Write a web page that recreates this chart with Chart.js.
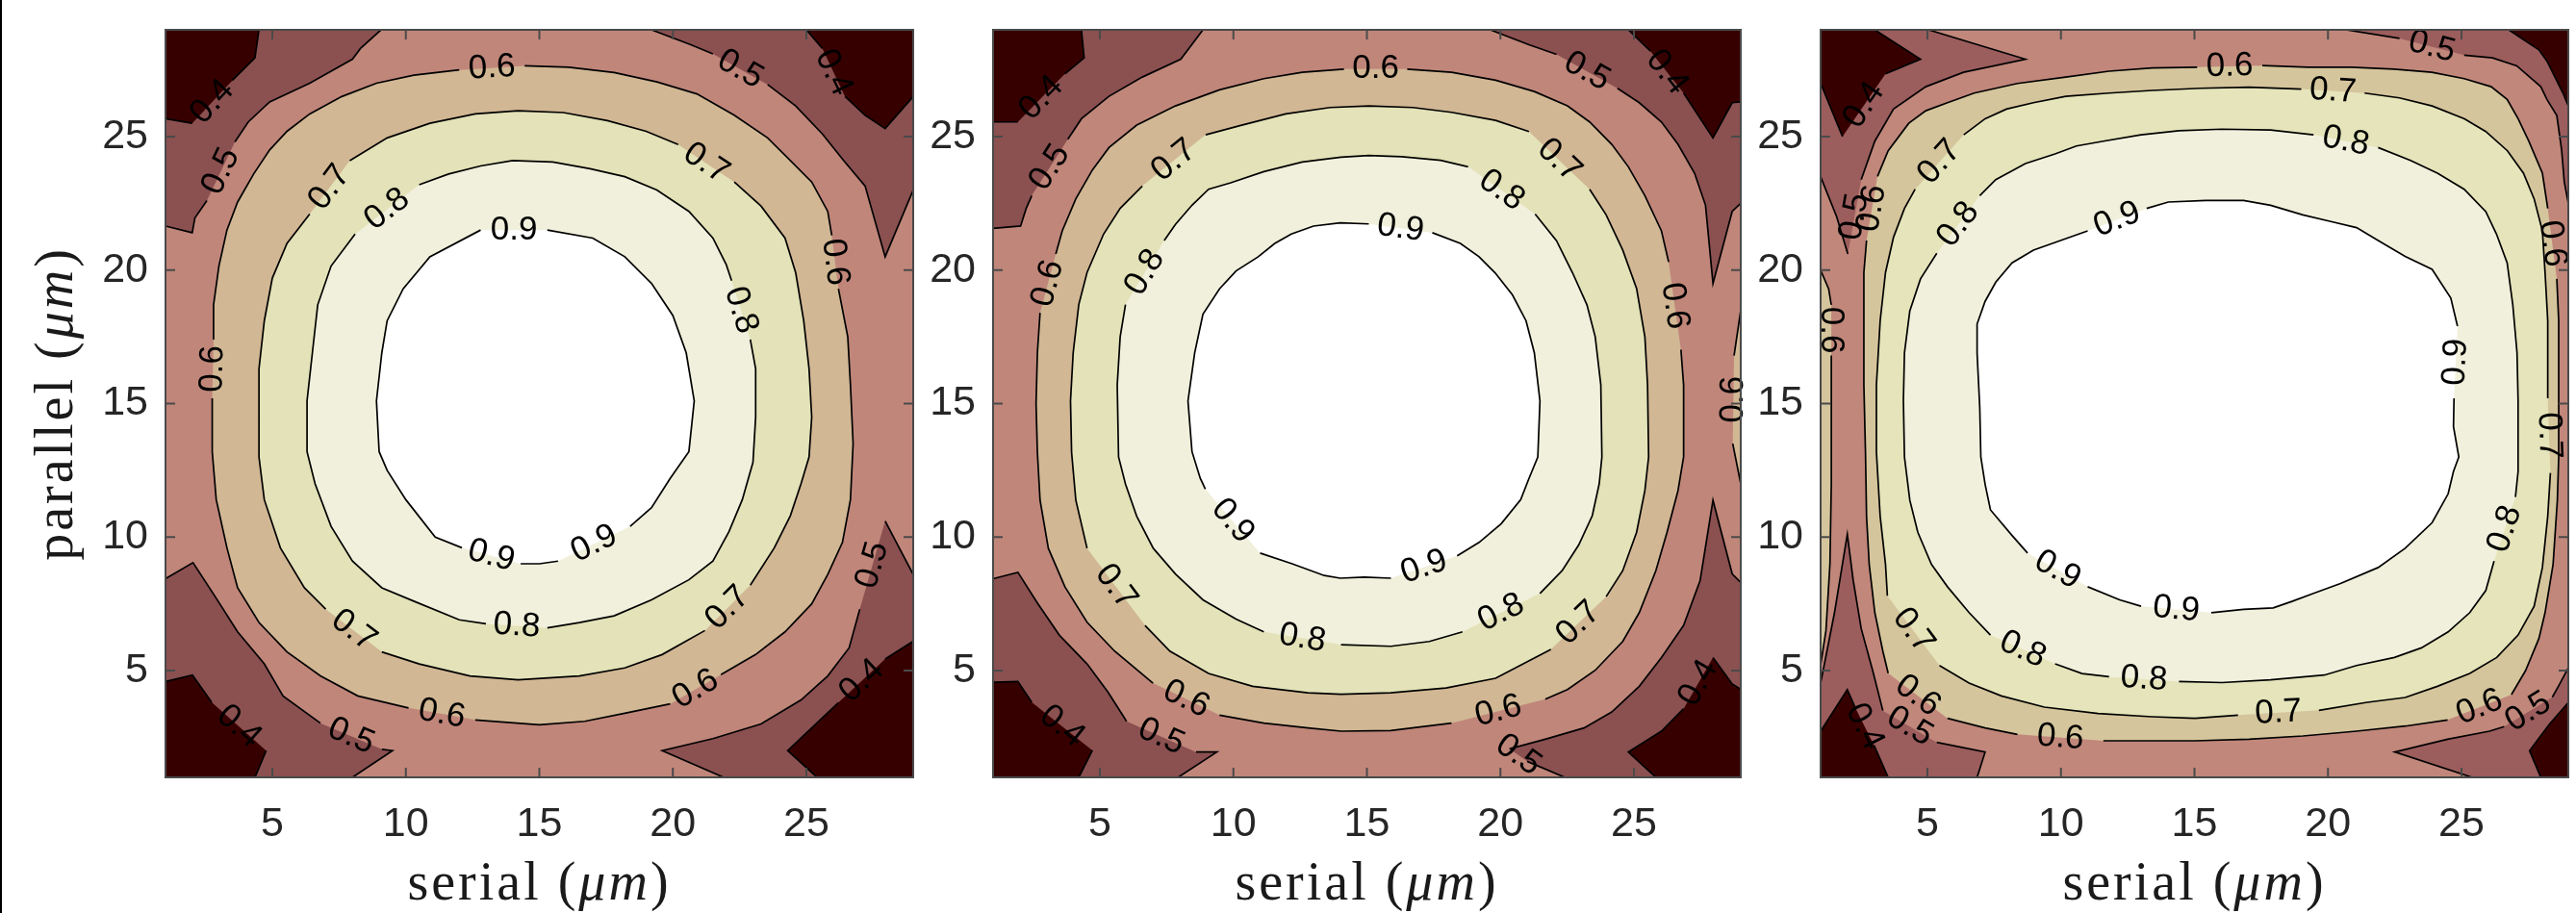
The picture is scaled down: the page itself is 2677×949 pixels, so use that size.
<!DOCTYPE html>
<html>
<head>
<meta charset="utf-8">
<script src="https://cdn.jsdelivr.net/npm/chart.js@4.4.0/dist/chart.umd.min.js"></script>
<style>
  html, body { margin: 0; padding: 0; background: #fff; overflow: hidden; }
  #fig { position: relative; width: 2677px; height: 949px; }
  #fig canvas { position: absolute; top: 0; }
  #edge { position: absolute; left: 0; top: 0; width: 2px; height: 949px; background: #000; }
</style>
</head>
<body>
<div id="fig">
  <canvas id="panel1" width="969" height="949" style="left:0px;width:969px;height:949px"></canvas>
  <canvas id="panel2" width="969" height="949" style="left:860px;width:969px;height:949px"></canvas>
  <canvas id="panel3" width="969" height="949" style="left:1720px;width:969px;height:949px"></canvas>
  <div id="edge"></div>
</div>
<script>
// contour levels and axes
const levels = [0.4, 0.5, 0.6, 0.7, 0.8, 0.9]
const xTicks = [5, 10, 15, 20, 25]
const yTicks = [5, 10, 15, 20, 25]
const axisMin = 1
const axisMax = 29

// contour lines, [serial, parallel] in um; null = gap where the level label sits
// panel 1
const p1Level09 = [[15.3,21.5],[17.0,21.2],[18.2,20.5],[19.2,19.5],[20.0,18.3],[20.5,16.9],[20.8,15.1],[20.6,13.2],[19.9,12.2],[19.2,11.1],[18.4,10.4],null,[15.7,9.1],[15.0,9.0],[14.3,9.0],null,[12.1,9.6],[11.1,10.0],[10.0,11.4],[9.3,12.5],[9.0,13.2],[8.9,15.1],[9.1,16.9],[9.3,18.1],[9.9,19.3],[10.9,20.5],[12.8,21.5],null]
const p1Level08 = [[10.5,23.2],[11.6,23.6],[12.8,23.9],[14.0,24.1],[15.5,24.05],[16.9,23.8],[18.2,23.5],[19.4,23.0],[20.6,22.2],[21.5,21.2],[22.0,20.2],[22.2,19.6],null,[22.9,17.4],[23.1,16.3],[23.1,14.5],[23.0,12.8],[22.6,11.4],[22.1,10.2],[21.5,9.1],[20.6,8.4],[19.2,7.65],[17.8,7.05],[16.5,6.8],[15.3,6.6],null,[13.0,6.75],[12.0,6.9],[10.3,7.6],[9.1,8.1],[8.0,9.1],[7.2,10.4],[6.6,12.0],[6.3,13.2],[6.3,15.1],[6.5,16.9],[6.7,18.7],[7.2,20.15],[8.1,21.35],null]
const p1Level07 = [[7.9,24.1],[9.3,24.95],[10.9,25.5],[12.6,25.85],[14.2,25.97],[15.9,25.9],[17.55,25.6],[19.0,25.2],[20.2,24.7],null,[22.3,23.3],[23.3,22.4],[24.2,21.2],[24.6,19.9],[24.9,18.1],[25.1,16.3],[25.2,14.5],[25.1,13.0],[24.8,12.0],[24.4,10.8],[23.8,9.6],[22.9,8.2],null,[21.2,6.5],[19.6,5.6],[18.2,5.1],[16.5,4.8],[14.2,4.65],[12.4,4.8],[10.5,5.25],[9.1,5.7],null,[7.0,7.3],[6.2,8.1],[5.3,9.6],[4.7,11.4],[4.5,13.0],[4.5,14.5],[4.5,16.3],[4.7,18.1],[5.0,19.7],[5.55,21.0],[6.4,22.1],null]
const p1Level06 = [[14.45,27.65],[16.1,27.6],[17.8,27.4],[19.4,27.05],[20.9,26.6],[22.3,25.8],[23.55,24.95],[24.4,24.1],[25.2,23.3],[25.8,22.2],[25.95,21.3],null,[26.2,19.3],[26.55,17.5],[26.65,15.7],[26.75,13.5],[26.65,11.4],[26.35,9.8],[25.8,8.6],[25.2,7.5],[24.2,6.45],[23.1,5.6],[21.8,4.85],null,[19.9,3.75],[18.2,3.4],[16.7,3.1],[15.0,2.97],[12.6,3.15],null,[10.1,3.6],[8.2,4.05],[6.8,4.8],[5.55,5.7],[4.5,6.8],[3.7,8.1],[3.3,9.6],[2.9,11.4],[2.75,13.2],[2.75,15.2],null,[2.8,17.4],[2.8,18.7],[3.0,20.15],[3.3,21.5],[3.7,22.55],[4.3,23.6],[4.9,24.5],[5.55,25.2],[6.4,25.85],[7.6,26.5],[8.9,27.0],[10.3,27.3],[12.0,27.5],null]
const p1Level05TL = [[9.07,29],[8.3,28.3],[8.0,27.9],[6.4,27.0],[4.9,26.3],[4.1,25.55],[3.6,24.8],null,[2.55,22.6],[2.1,21.95],[2.0,21.4],[1,21.65]]
const p1Level05TR = [[19.2,29],[20.65,28.45],[21.5,28.1],null,[23.55,26.95],[24.6,26.15],[25.6,25.1],[26.4,24.1],[27.2,23.15],[27.95,20.5],[29,23.0]]
const p1Level05BL = [[1,8.44],[2.03,9.04],[2.86,7.77],[3.7,6.45],[4.7,5.25],[5.4,4.05],[6.8,3.03],null,[9.1,2.05],[9.5,2.0],[8.0,1]]
const p1Level05BR = [[21.9,1],[19.6,2.0],[21.5,2.45],[23.3,3.0],[24.8,3.9],[25.8,4.8],[26.6,5.85],[27.0,7.3],null,[27.95,10.6],[29,8.6]]
const p1Level04TL = [[4.5,29],[4.35,27.95],[3.5,27.1],null,[2.0,25.5],[1,25.67]]
const p1Level04TR = [[25.0,29],[25.6,28.3],null,[26.45,26.5],[27.2,25.8],[27.95,25.3],[29,26.5]]
const p1Level04BL = [[1,4.59],[2.01,4.83],[2.73,3.81],null,[4.77,2.0],[4.35,1]]
const p1Level04BR = [[25.4,1],[24.3,2.0],[25.2,2.85],[26.2,3.8],null,[27.95,5.43],[29,6.1]]

// panel 2
const p2Level09 = [[17.45,21.4],[18.5,21.0],[19.2,20.5],[19.8,19.9],[20.45,19.07],[20.96,18.1],[21.27,16.9],[21.48,15.1],[21.4,13.0],[21.07,12.2],[20.76,11.4],[20.03,10.5],[19.2,9.8],[18.38,9.3],null,[15.9,8.46],[14.9,8.5],[14.0,8.46],[13.4,8.56],[12.2,9.0],[11.0,9.4],null,[8.95,11.8],[8.76,12.2],[8.45,13.2],[8.3,15.1],[8.55,16.9],[8.86,18.35],[9.48,19.3],[10.1,19.97],[10.93,20.5],[11.55,21.0],[12.17,21.35],[13.0,21.65],[14.0,21.77],[15.07,21.73],null]
const p2Level08 = [[21.3,22.1],[22.1,21.1],[22.7,19.9],[23.24,18.7],[23.55,17.5],[23.76,15.7],[23.8,13.0],[23.7,12.0],[23.44,10.8],[22.93,9.7],[22.31,8.74],[21.48,7.89],null,[18.58,6.45],[17.34,6.09],[15.9,5.91],[14.03,5.97],null,[11.14,6.45],[10.1,6.93],[8.86,7.65],[7.83,8.62],[7.0,9.58],[6.38,10.78],[5.96,11.98],[5.7,13.0],[5.65,15.7],[5.76,17.5],[5.96,18.71],null,[7.41,21.11],[7.83,21.71],[8.45,22.43],[9.07,23.03],[9.9,23.27],[11.14,23.69],[12.58,24.05],[14.03,24.23],[15.07,24.29],[16.31,24.25],[17.76,24.11],[18.79,23.87],null]
const p2Level07 = [[8.96,25.07],[10.31,25.43],[11.96,25.85],[13.62,26.09],[15.07,26.15],[16.72,26.09],[18.17,25.91],[19.82,25.61],[21.07,25.19],null,[23.34,23.03],[23.96,22.07],[24.58,20.75],[25.1,19.31],[25.41,17.5],[25.51,15.7],[25.55,13.0],[25.41,11.74],[25.1,10.18],[24.58,8.74],[23.96,7.77],null,[21.89,5.79],[19.82,4.71],[17.96,4.35],[15.89,4.17],[14.03,4.11],[12.79,4.17],[10.72,4.41],[9.07,4.89],[7.62,5.73],[6.69,6.69],null,[4.52,9.58],[4.1,11.38],[3.94,13.18],[3.9,15.1],[4.0,16.9],[4.21,18.71],[4.52,19.91],[5.14,21.35],[5.76,22.31],[6.59,23.15],null]
const p2Level06 = [[16.51,27.53],[18.17,27.41],[19.82,27.11],[21.27,26.69],[22.51,26.15],[23.34,25.55],[24.17,24.71],[24.79,23.87],[25.41,22.79],[26.03,21.47],[26.3,20.3],null,[26.76,17.02],[26.86,15.7],[26.86,13.0],[26.65,11.74],[26.24,10.18],[25.82,8.74],[25.2,7.17],[24.58,6.09],[23.55,5.01],[22.51,4.29],[21.68,3.93],null,[18.17,3.03],[15.89,2.75],[14.03,2.73],[12.79,2.85],[11.14,3.03],[9.48,3.33],null,[6.99,4.53],[5.55,5.73],[4.52,6.81],[3.69,8.14],[3.07,9.58],[2.76,11.38],[2.66,13.18],[2.61,15.0],[2.66,16.9],[2.76,18.4],null,[3.35,20.6],[3.59,21.47],[4.1,22.67],[4.72,23.75],[5.34,24.59],[6.38,25.43],[7.83,26.15],[9.48,26.75],[11.14,27.17],[12.58,27.41],[14.14,27.53],null]
const p2Level06Edge = [[29,18.5],[28.75,16.8],null,[28.7,13.5],[29,12.0]]
const p2Level05TL = [[8.86,29],[8.03,27.9],[6.59,27.23],[5.34,26.51],[4.31,25.67],[3.8,24.9],null,[2.45,22.79],[2.24,22.31],[2.03,21.65],[1,21.56]]
const p2Level05TR = [[19.62,29],[21.07,28.44],[22.1,28.08],null,[24.38,26.81],[25.2,26.27],[26.03,25.55],[26.65,24.71],[27.27,23.63],[27.68,22.43],[27.96,19.5],[28.68,22.2],[29,22.5]]
const p2Level05BL = [[1,8.44],[1.93,8.68],[2.66,7.53],[3.48,6.33],[4.52,5.25],[5.3,4.2],[6.0,3.1],null,[8.6,1.95],[9.38,1.95],[7.93,1]]
const p2Level05BR = [[22.41,1],[21.0,1.6],null,[20.34,2.07],[21.68,2.43],[23.13,2.85],[24.17,3.45],[25.2,4.41],[26.03,5.49],[26.86,6.69],[27.48,8.38],[27.96,11.38],[28.68,8.62],[29,8.3]]
const p2Level04TL = [[4.31,29],[4.41,27.95],[3.69,27.35],null,[1.93,25.55],[1,25.55]]
const p2Level04TR = [[24.79,29],[25.62,28.2],null,[26.86,26.63],[27.96,24.95],[28.68,26.27],[29,26.3]]
const p2Level04BL = [[1,4.56],[1.93,4.59],[2.45,3.81],null,[4.72,2.01],[4.21,1]]
const p2Level04BR = [[25.82,1],[24.79,1.95],[26.03,2.73],[26.86,3.57],null,[27.96,5.49],[28.68,4.5],[29,4.3]]

// panel 3
const p3Level09 = [[13.21,22.31],[14.02,22.55],[15.43,22.61],[16.84,22.61],[17.85,22.43],[19.06,22.07],[20.07,21.83],[21.07,21.59],[21.88,21.11],[22.89,20.51],[23.9,20.03],[24.6,18.95],[24.85,17.9],null,[24.72,15.2],[24.7,14.14],[24.9,13.0],[24.7,12.46],[24.5,11.62],[23.9,10.54],[22.89,9.58],[21.88,8.86],[20.47,8.26],[19.46,7.89],[18.65,7.59],[17.95,7.35],[16.84,7.29],[15.63,7.17],null,[13.0,7.41],[12.2,7.65],[11.0,8.14],null,[8.75,9.4],[8.17,10.06],[7.36,11.02],[7.16,11.98],[7.0,13.0],[6.96,14.86],[6.86,16.9],[6.86,17.98],[7.16,18.83],[7.56,19.55],[8.17,20.27],[8.97,20.75],[11.0,21.47],null]
const p3Level08 = [[21.88,24.59],[23.09,24.11],[24.1,23.63],[25.1,23.03],[25.91,22.19],[26.31,21.35],[26.71,20.27],[26.92,18.71],[27.08,16.9],[27.12,15.1],[27.12,13.0],[27.12,12.46],[27.02,11.5],null,[26.22,9.1],[25.91,8.0],[25.31,7.17],[24.5,6.45],[23.5,5.85],[22.49,5.49],[21.07,5.19],[19.86,4.83],[17.85,4.65],[16.03,4.55],[14.42,4.59],null,[11.8,4.77],[10.79,4.89],[9.78,5.25],null,[7.36,6.33],[6.56,7.17],[5.75,8.14],[5.15,8.98],[4.64,10.18],[4.34,11.38],[4.14,13.0],[4.1,15.1],[4.14,16.9],[4.34,18.47],[4.74,19.67],[5.35,20.63],null,[6.96,22.79],[7.56,23.39],[8.67,23.99],[9.78,24.35],[10.58,24.65],[11.59,24.83],[13.0,25.07],[14.42,25.22],[16.03,25.28],[17.85,25.25],[19.46,25.07],null]
const p3Level07 = [[21.37,26.63],[22.68,26.45],[23.9,26.15],[25.11,25.67],[25.91,25.19],[26.72,24.47],[27.32,23.63],[27.72,22.67],[28.03,21.47],[28.13,19.91],[28.23,18.1],[28.23,15.2],null,[28.33,12.4],[28.23,10.78],[28.03,8.86],[27.72,7.41],[27.12,6.33],[26.32,5.49],[25.31,4.89],[24.1,4.41],[22.89,3.99],[21.47,3.81],[19.66,3.51],null,[16.63,3.33],[15.02,3.21],[13.41,3.27],[11.39,3.39],[9.38,3.63],[7.77,4.05],[6.56,4.53],[5.45,5.19],null,[3.5,7.8],[3.43,8.98],[3.23,10.78],[3.09,13.18],[3.09,15.7],[3.23,18.1],[3.43,19.91],[3.73,21.23],[4.14,22.31],[4.54,23.03],null,[6.36,25.07],[7.16,25.67],[7.96,26.03],[8.97,26.27],[10.18,26.51],[11.8,26.63],[13.41,26.73],[15.22,26.81],[17.04,26.85],[19.0,26.78],null]
const p3Level06 = [[17.54,27.66],[19.26,27.6],[20.87,27.6],[22.48,27.53],[23.89,27.41],[25.1,27.17],[26.11,26.87],[26.71,26.39],[27.12,25.67],[27.52,24.83],[28.03,23.63],[28.23,22.31],null,[28.57,19.67],[28.64,18.1],[28.64,15.7],[28.64,13.0],[28.59,11.38],[28.43,8.98],[28.13,7.17],[27.9,6.2],[27.4,5.0],[26.87,4.1],null,[24.48,3.15],[22.9,2.92],[21.07,2.73],[19.06,2.55],[17.04,2.43],[15.02,2.37],[13.21,2.37],[11.59,2.37],null,[8.37,2.61],[7.16,2.85],[5.75,3.21],null,[3.53,4.9],[3.33,5.73],[3.03,7.17],[2.82,8.98],[2.72,10.78],[2.68,13.18],[2.62,15.7],[2.62,18.1],[2.62,19.91],[2.72,21.11],null,[3.13,23.51],[3.53,24.47],[4.3,25.5],[4.94,25.97],[5.75,26.27],[6.75,26.63],[8.37,26.99],[10.18,27.23],[11.8,27.45],[13.41,27.57],[15.1,27.6],null]
const p3Level06Edge = [[1,20.0],[1.3,19.3],[1.4,18.7],null,[1.4,16.8],[1.4,12.0],[1.35,9.0],[1.2,6.5],[1,5.2]]
const p3Level05TL = [[5.04,29],[8.67,27.9],[6.35,27.41],[4.94,26.87],[3.73,26.03],[3.03,24.83],[2.52,23.39],null,[2.02,20.6],[1.6,22.0],[1,23.5]]
const p3Level05TR = [[20.67,29],[22.68,28.68],null,[25.1,28.05],[26.16,27.95],[27.07,27.65],[27.97,26.87],[28.2,26.39],[28.57,25.79],[28.75,24.5],[28.85,23.3],[29,22.5]]
const p3Level05BL = [[1,4.53],[1.52,7.17],[2.0,10.1],[2.22,8.38],[2.52,6.57],[2.95,5.0],[3.33,3.5],null,[5.35,2.31],[7.16,1.95],[6.86,1]]
const p3Level05BR = [[25.4,1],[22.5,1.95],[24.48,2.43],[26.05,2.73],[26.6,2.9],null,[28.4,4.0],[28.63,4.41],[29,5.1]]
const p3Level04TL = [[3.03,29],[4.74,27.9],[3.43,27.35],null,[1.82,25.0],[1,27.0]]
const p3Level04TR = [[26.77,29],[27.9,28.25],[28.2,27.83],[28.8,26.63],[29,26.15]]
const p3Level04BL = [[1,2.73],[2.0,4.29],[2.3,3.6],null,[3.0,2.2],[3.53,1]]
const p3Level04BR = [[27.97,1],[27.55,2.0],[28.3,3.0],[29,3.8]]

const xTitleParts = [{ text: 'serial (', italic: false }, { text: 'μm', italic: true }, { text: ')', italic: false }]
const yTitleParts = [{ text: 'parallel (', italic: false }, { text: 'μm', italic: true }, { text: ')', italic: false }]

// filled band colours: <0.4, 0.4-0.5, 0.5-0.6, 0.6-0.7, 0.7-0.8, 0.8-0.9, >0.9
const bandColorsA = ['#370000', '#8b5050', '#c0867a', '#d1b794', '#e3e2b8', '#f1f0dc', '#ffffff']
const bandColorsB = ['#370000', '#9c5d5d', '#c1877b', '#d5c59c', '#e5e4ba', '#f1f0dc', '#ffffff']

const cornerPoints = { tl: [axisMin, axisMax], tr: [axisMax, axisMax], bl: [axisMin, axisMin], br: [axisMax, axisMin] }

const panels = [
    {
        canvas: 'panel1', colors: bandColorsA, yTitle: true,
        contours: [
            { level: 0.5, pts: p1Level05TL, corner: 'tl' }, { level: 0.5, pts: p1Level05TR, corner: 'tr' },
            { level: 0.5, pts: p1Level05BL, corner: 'bl' }, { level: 0.5, pts: p1Level05BR, corner: 'br' },
            { level: 0.4, pts: p1Level04TL, corner: 'tl' }, { level: 0.4, pts: p1Level04TR, corner: 'tr' },
            { level: 0.4, pts: p1Level04BL, corner: 'bl' }, { level: 0.4, pts: p1Level04BR, corner: 'br' },
            { level: 0.6, pts: p1Level06, closed: true }, { level: 0.7, pts: p1Level07, closed: true },
            { level: 0.8, pts: p1Level08, closed: true }, { level: 0.9, pts: p1Level09, closed: true }
        ]
    },
    {
        canvas: 'panel2', colors: bandColorsA, yTitle: false,
        contours: [
            { level: 0.5, pts: p2Level05TL, corner: 'tl' }, { level: 0.5, pts: p2Level05TR, corner: 'tr' },
            { level: 0.5, pts: p2Level05BL, corner: 'bl' }, { level: 0.5, pts: p2Level05BR, corner: 'br' },
            { level: 0.4, pts: p2Level04TL, corner: 'tl' }, { level: 0.4, pts: p2Level04TR, corner: 'tr' },
            { level: 0.4, pts: p2Level04BL, corner: 'bl' }, { level: 0.4, pts: p2Level04BR, corner: 'br' },
            { level: 0.6, pts: p2Level06, closed: true }, { level: 0.6, pts: p2Level06Edge },
            { level: 0.7, pts: p2Level07, closed: true },
            { level: 0.8, pts: p2Level08, closed: true }, { level: 0.9, pts: p2Level09, closed: true }
        ]
    },
    {
        canvas: 'panel3', colors: bandColorsB, yTitle: false,
        contours: [
            { level: 0.5, pts: p3Level05TL, corner: 'tl' }, { level: 0.5, pts: p3Level05TR, corner: 'tr' },
            { level: 0.5, pts: p3Level05BL, corner: 'bl' }, { level: 0.5, pts: p3Level05BR, corner: 'br' },
            { level: 0.4, pts: p3Level04TL, corner: 'tl' }, { level: 0.4, pts: p3Level04TR, corner: 'tr' },
            { level: 0.4, pts: p3Level04BL, corner: 'bl' }, { level: 0.4, pts: p3Level04BR, corner: 'br' },
            { level: 0.6, pts: p3Level06, closed: true }, { level: 0.6, pts: p3Level06Edge },
            { level: 0.7, pts: p3Level07, closed: true },
            { level: 0.8, pts: p3Level08, closed: true }, { level: 0.9, pts: p3Level09, closed: true }
        ]
    }
]

function toXY(p) {
    return p === null ? { x: null, y: null } : { x: p[0], y: p[1] }
}

function buildDatasets(contours, colors) {
    let seq = []
    // filled regions, painted from the outside in
    let fillOrder = [0.5, 0.4, 0.6, 0.7, 0.8, 0.9]
    fillOrder.forEach(lev => {
        contours.filter(c => c.level === lev).forEach(c => {
            let poly = c.pts.filter(p => p !== null)
            if (c.corner) poly.push(cornerPoints[c.corner])
            let idx = levels.indexOf(lev)
            seq.push({
                data: poly.map(toXY),
                fill: 'shape',
                backgroundColor: colors[lev <= 0.5 ? idx : idx + 1],
                borderColor: 'rgba(0,0,0,0)',
                borderWidth: 0,
                pointRadius: 0,
                tension: 0
            })
        })
    })
    // contour lines
    contours.forEach(c => {
        seq.push({
            data: c.pts.map(toXY),
            rawPts: c.pts,
            closed: !!c.closed,
            levelText: c.level.toFixed(1),
            fill: false,
            borderColor: '#000000',
            borderWidth: 1.7,
            pointRadius: 0,
            tension: 0,
            spanGaps: false
        })
    })
    // first dataset is drawn on top in Chart.js, so reverse
    return seq.reverse()
}

const areaFill = {
    id: 'areaFill',
    beforeDatasetsDraw(chart, args, opts) {
        const { ctx, chartArea } = chart
        ctx.save()
        ctx.fillStyle = opts.color
        ctx.fillRect(chartArea.left, chartArea.top, chartArea.right - chartArea.left, chartArea.bottom - chartArea.top)
        ctx.restore()
    }
}

const contourLabels = {
    id: 'contourLabels',
    afterDatasetsDraw(chart) {
        const { ctx } = chart
        const xs = chart.scales.x, ys = chart.scales.y
        ctx.save()
        ctx.font = '35px "Liberation Sans", Arial, sans-serif'
        ctx.fillStyle = '#000'
        ctx.textAlign = 'center'
        ctx.textBaseline = 'middle'
        chart.data.datasets.forEach(ds => {
            if (!ds.levelText) return
            const d = ds.rawPts
            for (let i = 1; i < d.length; i++) {
                if (d[i] !== null) continue
                const a = d[i - 1]
                const b = i + 1 < d.length ? d[i + 1] : (ds.closed ? d[0] : null)
                if (!a || !b) continue
                const ax = xs.getPixelForValue(a[0]), ay = ys.getPixelForValue(a[1])
                const bx = xs.getPixelForValue(b[0]), by = ys.getPixelForValue(b[1])
                let ang = Math.atan2(by - ay, bx - ax)
                if (ang > Math.PI / 2) ang -= Math.PI
                else if (ang < -Math.PI / 2) ang += Math.PI
                ctx.save()
                ctx.translate((ax + bx) / 2, (ay + by) / 2)
                ctx.rotate(ang)
                ctx.fillText(ds.levelText, 0, 0)
                ctx.restore()
            }
        })
        ctx.restore()
    }
}

const axesBox = {
    id: 'axesBox',
    afterDraw(chart) {
        const { ctx, chartArea: a } = chart
        const xs = chart.scales.x, ys = chart.scales.y
        const tl = 10
        ctx.save()
        ctx.strokeStyle = '#4a4a4a'
        ctx.lineWidth = 2
        ctx.strokeRect(a.left, a.top, a.right - a.left, a.bottom - a.top)
        ctx.beginPath()
        xTicks.forEach(v => {
            const px = xs.getPixelForValue(v)
            ctx.moveTo(px, a.bottom); ctx.lineTo(px, a.bottom - tl)
            ctx.moveTo(px, a.top); ctx.lineTo(px, a.top + tl)
        })
        yTicks.forEach(v => {
            const py = ys.getPixelForValue(v)
            ctx.moveTo(a.left, py); ctx.lineTo(a.left + tl, py)
            ctx.moveTo(a.right, py); ctx.lineTo(a.right - tl, py)
        })
        ctx.stroke()
        ctx.restore()
    }
}

function drawMixed(ctx, parts, cx, baseline) {
    const fonts = parts.map(p => (p.italic ? 'italic ' : '') + '56px "Liberation Serif", serif')
    const widths = parts.map((p, i) => { ctx.font = fonts[i]; return ctx.measureText(p.text).width })
    let x = cx - widths.reduce((s, w) => s + w, 0) / 2
    ctx.textAlign = 'left'
    parts.forEach((p, i) => {
        ctx.font = fonts[i]
        ctx.fillText(p.text, x, baseline)
        x += widths[i]
    })
}

const axisTitles = {
    id: 'axisTitles',
    afterDraw(chart, args, opts) {
        const { ctx, chartArea: a } = chart
        ctx.save()
        ctx.fillStyle = '#1a1a1a'
        ctx.textBaseline = 'alphabetic'
        if ('letterSpacing' in ctx) ctx.letterSpacing = '3px'
        drawMixed(ctx, xTitleParts, (a.left + a.right) / 2, 935)
        if (opts.showY) {
            ctx.translate(75, (a.top + a.bottom) / 2)
            ctx.rotate(-Math.PI / 2)
            drawMixed(ctx, yTitleParts, 0, 0)
        }
        ctx.restore()
    }
}

const tickFont = { family: '"Liberation Sans", Arial, sans-serif', size: 43 }

panels.forEach(p => {
    new Chart(document.getElementById(p.canvas), {
        type: 'line',
        data: { datasets: buildDatasets(p.contours, p.colors) },
        options: {
            responsive: false,
            animation: false,
            devicePixelRatio: 1,
            layout: { padding: { left: 0, right: 20, top: 31, bottom: 0 } },
            plugins: {
                legend: { display: false },
                tooltip: { enabled: false },
                areaFill: { color: p.colors[2] },
                axisTitles: { showY: p.yTitle }
            },
            scales: {
                x: {
                    type: 'linear',
                    min: axisMin,
                    max: axisMax,
                    afterBuildTicks: s => { s.ticks = xTicks.map(v => ({ value: v })) },
                    afterFit: s => { s.height = 141; s.paddingLeft = 0; s.paddingRight = 0 },
                    grid: { display: false, drawTicks: false },
                    border: { display: false },
                    ticks: { font: tickFont, color: '#262626', padding: 23, maxRotation: 0, autoSkip: false }
                },
                y: {
                    type: 'linear',
                    min: axisMin,
                    max: axisMax,
                    afterBuildTicks: s => { s.ticks = yTicks.map(v => ({ value: v })) },
                    afterFit: s => { s.width = 172; s.paddingTop = 0; s.paddingBottom = 0 },
                    grid: { display: false, drawTicks: false },
                    border: { display: false },
                    ticks: { font: tickFont, color: '#262626', padding: 18, autoSkip: false }
                }
            }
        },
        plugins: [areaFill, contourLabels, axesBox, axisTitles]
    })
})
</script>
</body>
</html>
